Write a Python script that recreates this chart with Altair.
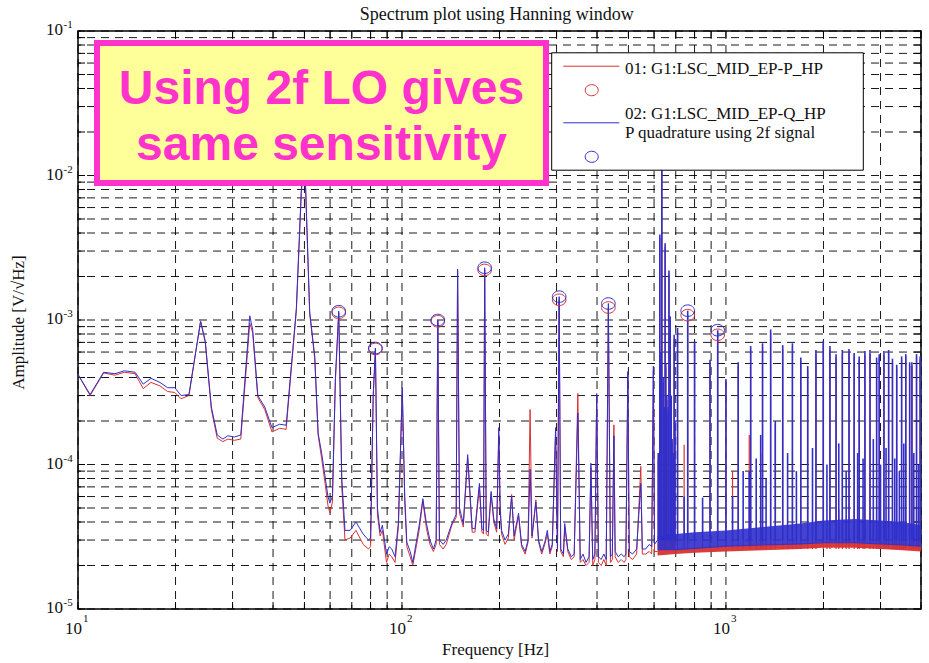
import altair as alt
import pandas as pd

# ------------------------------------------------------------------ data
freq_main = [
    10.0, 10.9, 12.0, 13.0, 13.9, 15.0, 15.9, 16.8, 17.9, 18.9,
    19.9, 20.8, 22.0, 23.9, 24.7, 25.8, 26.9, 28.0, 29.0, 30.4,
    31.8, 33.9, 34.6, 35.9, 37.7, 39.7, 41.9, 43.9, 47.2, 48.9,
    50.0, 51.9, 53.8, 55.1, 56.5, 58.0, 59.1, 59.9, 61.0, 62.3,
    63.8, 65.2, 66.7, 69.2, 72.1, 75.9, 78.8, 80.0, 81.5, 82.8,
    84.0, 85.6, 87.0, 89.6, 91.3, 93.0, 95.2, 97.5, 100.2, 102.0,
    103.5, 106.0, 108.0, 111.0, 113.0, 116.0, 119.0, 122.0, 125.0, 127.5,
    129.0, 130.5, 134.0, 137.0, 142.5, 147.0, 148.5, 150.5, 154.6, 159.5,
    164.7, 168.0, 173.4, 176.5, 178.5, 180.0, 182.0, 184.6, 188.4, 192.0,
    196.0, 199.0, 201.0, 203.0, 208.0, 213.0, 218.0, 222.0, 224.0, 229.0,
    234.0, 240.0, 245.0, 248.6, 252.0, 259.0, 264.0, 270.0, 276.0, 281.0,
    286.0, 291.0, 298.0, 302.0, 305.6, 309.0, 315.0, 318.0, 325.0, 333.0,
    340.0, 349.0, 355.0, 362.0, 370.0, 378.0, 383.0, 388.0, 394.0, 399.0,
    404.0, 412.0, 420.0, 427.0, 433.6, 440.0, 446.0, 451.0, 455.0, 465.0,
    475.0, 485.0, 491.0, 498.0, 503.0, 515.0, 530.0, 546.0, 552.0, 565.0,
    580.0, 590.0, 597.0, 602.0, 615.0,
]
amp_blue_main = [
    4.2e-4, 3.05e-4, 4.35e-4, 4.25e-4, 4.45e-4, 4.35e-4, 3.6e-4, 3.95e-4, 3.7e-4, 3.4e-4,
    3.4e-4, 3.0e-4, 3.05e-4, 9.8e-4, 7.2e-4, 2.5e-4, 1.6e-4, 1.5e-4, 1.58e-4, 1.55e-4,
    1.6e-4, 1.07e-3, 8.6e-4, 3.0e-4, 2.5e-4, 1.8e-4, 1.9e-4, 1.87e-4, 1.2e-3, 8.0e-3,
    1.5e-2, 1.14e-3, 5.6e-4, 1.65e-4, 1.2e-4, 8.0e-5, 6.0e-5, 5.4e-5, 6.0e-5, 4.0e-4,
    1.15e-3, 8.0e-5, 3.5e-5, 3.5e-5, 4.0e-5, 3.3e-5, 3.0e-5, 3.1e-5, 3.0e-4, 6.4e-4,
    5.0e-5, 3.4e-5, 3.8e-5, 2.4e-5, 2.7e-5, 2.6e-5, 2.3e-5, 4.0e-5, 3.4e-4, 6.0e-5,
    2.9e-5, 2.5e-5, 2.1e-5, 3.0e-5, 3.8e-5, 5.8e-5, 3.9e-5, 3.0e-5, 2.6e-5, 3.0e-5,
    1.0e-3, 3.0e-5, 2.8e-5, 3.0e-5, 3.9e-5, 4.5e-5, 2.25e-3, 5.0e-5, 3.9e-5, 1.17e-4,
    3.6e-5, 3.6e-5, 7.4e-5, 3.6e-5, 3.5e-5, 2.3e-3, 3.5e-5, 3.4e-5, 6.5e-5, 4.2e-5,
    3.6e-5, 1.8e-4, 5.0e-5, 3.5e-5, 3.0e-5, 3.3e-5, 6.0e-5, 3.2e-5, 3.6e-5, 4.6e-5,
    2.8e-5, 2.5e-5, 3.0e-5, 9.3e-5, 3.2e-5, 5.5e-5, 3.0e-5, 2.5e-5, 2.9e-5, 3.5e-5,
    2.5e-5, 2.8e-5, 1.8e-4, 2.6e-5, 1.45e-3, 2.6e-5, 2.4e-5, 3.9e-5, 2.6e-5, 2.3e-5,
    2.4e-5, 2.27e-4, 2.2e-5, 2.4e-5, 2.1e-5, 2.3e-5, 1.02e-4, 2.2e-5, 2.4e-5, 3.1e-4,
    2.3e-5, 2.2e-5, 2.4e-5, 2.2e-5, 1.3e-3, 2.3e-5, 2.4e-5, 1.58e-4, 2.5e-5, 2.3e-5,
    2.4e-5, 2.3e-5, 2.4e-5, 4.4e-4, 2.5e-5, 2.4e-5, 2.6e-5, 7.4e-5, 2.6e-5, 2.6e-5,
    2.8e-5, 2.7e-5, 4.8e-4, 2.8e-5, 3.0e-5,
]
amp_red_main = [
    4.2e-4, 3.0e-4, 4.3e-4, 4.15e-4, 4.35e-4, 4.25e-4, 3.35e-4, 3.7e-4, 3.5e-4, 3.2e-4,
    3.15e-4, 2.85e-4, 3.0e-4, 9.8e-4, 7.0e-4, 2.4e-4, 1.52e-4, 1.44e-4, 1.5e-4, 1.47e-4,
    1.5e-4, 9.5e-4, 8.2e-4, 2.9e-4, 2.4e-4, 1.68e-4, 1.78e-4, 1.75e-4, 1.15e-3, 7.5e-3,
    1.4e-2, 1.1e-3, 5.4e-4, 1.6e-4, 1.1e-4, 7.2e-5, 5.2e-5, 4.6e-5, 5.5e-5, 3.8e-4,
    1.12e-3, 7.0e-5, 3.0e-5, 3.1e-5, 3.5e-5, 2.8e-5, 2.6e-5, 2.7e-5, 2.9e-4, 6.3e-4,
    4.5e-5, 3.2e-5, 3.5e-5, 2.1e-5, 2.4e-5, 2.3e-5, 2.1e-5, 3.7e-5, 3.3e-4, 5.5e-5,
    2.7e-5, 2.3e-5, 2.0e-5, 2.8e-5, 3.5e-5, 5.6e-5, 3.6e-5, 2.8e-5, 2.5e-5, 2.8e-5,
    9.8e-4, 2.8e-5, 2.6e-5, 2.8e-5, 3.8e-5, 4.3e-5, 2.2e-3, 4.6e-5, 3.7e-5, 1.1e-4,
    3.4e-5, 3.4e-5, 7.0e-5, 3.4e-5, 3.3e-5, 2.22e-3, 3.3e-5, 3.2e-5, 6.2e-5, 4.0e-5,
    3.4e-5, 1.6e-4, 4.6e-5, 3.3e-5, 2.8e-5, 3.1e-5, 6.2e-5, 3.0e-5, 3.4e-5, 4.4e-5,
    2.7e-5, 2.4e-5, 2.9e-5, 2.4e-4, 3.1e-5, 5.7e-5, 2.9e-5, 2.4e-5, 2.8e-5, 3.3e-5,
    2.4e-5, 2.7e-5, 1.7e-4, 2.5e-5, 1.38e-3, 2.5e-5, 2.3e-5, 3.7e-5, 2.5e-5, 2.2e-5,
    2.3e-5, 3.1e-4, 2.1e-5, 2.2e-5, 2.0e-5, 2.1e-5, 9.5e-5, 2.0e-5, 2.2e-5, 3.0e-4,
    2.1e-5, 2.0e-5, 2.2e-5, 2.0e-5, 1.22e-3, 2.1e-5, 2.2e-5, 1.88e-4, 2.3e-5, 2.1e-5,
    2.2e-5, 2.1e-5, 2.2e-5, 4.2e-4, 2.3e-5, 2.2e-5, 2.4e-5, 9.7e-5, 2.4e-5, 2.4e-5,
    2.5e-5, 2.4e-5, 4.5e-4, 2.5e-5, 2.5e-5,
]

# noise floor above ~600 Hz (lower / upper edge of the dense noise)
band_freq = [615, 700, 800, 1000, 1300, 1700, 2000, 2500, 3000, 3500, 4000]
band_blue_low = [2.55e-5, 2.55e-5, 2.6e-5, 2.7e-5, 2.75e-5, 2.8e-5, 2.85e-5, 2.85e-5, 2.8e-5, 2.75e-5, 2.7e-5]
band_blue_high = [3.2e-5, 3.3e-5, 3.4e-5, 3.5e-5, 3.7e-5, 3.9e-5, 4.1e-5, 4.2e-5, 4.1e-5, 4.0e-5, 3.8e-5]
band_red_low = [2.35e-5, 2.4e-5, 2.45e-5, 2.5e-5, 2.55e-5, 2.6e-5, 2.65e-5, 2.65e-5, 2.6e-5, 2.55e-5, 2.5e-5]
band_red_high = [2.6e-5, 2.6e-5, 2.65e-5, 2.75e-5, 2.8e-5, 2.85e-5, 2.9e-5, 2.9e-5, 2.85e-5, 2.8e-5, 2.75e-5]

# spectral lines above ~600 Hz
spike_freq = [
    618, 625, 630, 634, 640, 645, 649, 652, 657, 663,
    667, 673, 678, 682, 688, 692, 696, 709, 743, 762,
    800, 847, 893, 943, 1000, 1048, 1091, 1130, 1180, 1192,
    1240, 1280, 1297, 1330, 1374, 1420, 1497, 1550, 1604, 1650,
    1702, 1788, 1850, 1896, 1997, 2050, 2094, 2187, 2230, 2287,
    2350, 2398, 2487, 2550, 2578, 2650, 2685, 2784, 2850, 2918,
    2972, 3000, 3074, 3120, 3178, 3266, 3320, 3366, 3430, 3485,
    3540, 3590, 3690, 3750, 3800, 3875, 3930, 3975,
]
spike_blue = [
    1.2e-4, 3.9e-3, 6.0e-4, 1.2e-2, 4.0e-4, 2.5e-4, 3.4e-3, 5.0e-4, 3.0e-4, 2.5e-4,
    2.2e-3, 1.06e-3, 3.0e-4, 1.5e-4, 1.2e-4, 7.9e-4, 2.0e-4, 8.8e-4, 6.0e-5, 1.16e-3,
    7.1e-4, 5.9e-5, 5.3e-4, 8.5e-4, 3.9e-4, 6.0e-5, 5.1e-4, 9.0e-5, 9.0e-5, 6.6e-4,
    1.1e-4, 1.6e-4, 6.9e-4, 8.0e-5, 8.6e-4, 2.0e-4, 6.7e-4, 1.2e-4, 6.9e-4, 9.0e-5,
    5.5e-4, 4.8e-4, 1.3e-4, 6.2e-4, 7.2e-4, 1.0e-4, 6.6e-4, 5.8e-4, 1.4e-4, 6.2e-4,
    9.0e-5, 6.3e-4, 5.9e-4, 1.2e-4, 5.6e-4, 1.1e-4, 6.1e-4, 6.2e-4, 1.5e-4, 5.5e-4,
    5.8e-4, 1.0e-4, 6.1e-4, 1.3e-4, 6.2e-4, 5.4e-4, 1.1e-4, 4.9e-4, 9.0e-5, 5.6e-4,
    1.4e-4, 5.8e-4, 5.1e-4, 5.1e-4, 1.2e-4, 5.8e-4, 1.0e-4, 5.6e-4,
]
spike_red = [
    1.1e-4, 3.7e-3, 5.6e-4, 1.1e-2, 3.7e-4, 2.3e-4, 3.2e-3, 4.7e-4, 2.8e-4, 2.3e-4,
    2.1e-3, 1.0e-3, 2.8e-4, 1.4e-4, 1.1e-4, 7.4e-4, 1.9e-4, 8.3e-4, 1.37e-4, 1.08e-3,
    6.7e-4, 5.0e-5, 5.0e-4, 7.9e-4, 3.7e-4, 9.0e-5, 4.8e-4, 3.0e-5, 1.6e-4, 6.2e-4,
    3.0e-5, 1.2e-4, 6.5e-4, 3.0e-5, 8.1e-4, 1.9e-4, 6.3e-4, 3.0e-5, 6.5e-4, 3.0e-5,
    5.2e-4, 4.5e-4, 3.0e-5, 5.8e-4, 6.8e-4, 3.0e-5, 6.2e-4, 5.5e-4, 4.9e-5, 5.8e-4,
    3.0e-5, 5.9e-4, 5.6e-4, 3.0e-5, 5.3e-4, 3.0e-5, 5.7e-4, 5.8e-4, 3.0e-5, 5.2e-4,
    5.5e-4, 3.0e-5, 5.7e-4, 3.0e-5, 5.8e-4, 5.1e-4, 3.0e-5, 4.6e-4, 3.0e-5, 5.3e-4,
    3.0e-5, 5.5e-4, 4.8e-4, 4.8e-4, 3.0e-5, 5.5e-4, 3.0e-5, 5.3e-4,
]
spike_floor_blue = 3.0e-5
spike_floor_red = 2.6e-5

# marked peaks (circles)
circle_freq = [63.8, 82.8, 129.0, 180.0, 305.6, 433.6, 762.0, 943.0]
circle_blue = [1.15e-3, 6.4e-4, 1.0e-3, 2.3e-3, 1.45e-3, 1.3e-3, 1.16e-3, 8.5e-4]
circle_red = [1.12e-3, 6.3e-4, 9.8e-4, 2.22e-3, 1.38e-3, 1.22e-3, 1.08e-3, 7.9e-4]

# grid and tick labels
x_grid = [10, 20, 30, 40, 50, 60, 70, 80, 90,
          100, 200, 300, 400, 500, 600, 700, 800, 900,
          1000, 2000, 3000, 4000]
y_grid = [1e-5, 2e-5, 3e-5, 4e-5, 5e-5, 6e-5, 7e-5, 8e-5, 9e-5,
          1e-4, 2e-4, 3e-4, 4e-4, 5e-4, 6e-4, 7e-4, 8e-4, 9e-4,
          1e-3, 2e-3, 3e-3, 4e-3, 5e-3, 6e-3, 7e-3, 8e-3, 9e-3,
          1e-2, 2e-2, 3e-2, 4e-2, 5e-2, 6e-2, 7e-2, 8e-2, 9e-2, 1e-1]
x_label_vals = [10, 100, 1000]
x_label_base = ["10", "10", "10"]
x_label_exp = ["1", "2", "3"]
y_label_vals = [1e-5, 1e-4, 1e-3, 1e-2, 1e-1]
y_label_base = ["10", "10", "10", "10", "10"]
y_label_exp = ["-5", "-4", "-3", "-2", "-1"]

title_text = "Spectrum plot using Hanning window"
x_title = "Frequency [Hz]"
y_title = "Amplitude [V/\u221aHz]"
legend_labels = ["01: G1:LSC_MID_EP-P_HP", "02: G1:LSC_MID_EP-Q_HP", "P quadrature using 2f signal"]
note_lines = ["Using 2f LO gives", "same sensitivity"]

# ------------------------------------------------------------------ style
W, H = 843, 578
RED = "#D83232"
BLUE = "#2F2FCC"
PINK = "#FF33CC"
YELLOW = "#FFFF99"
SERIF = "Liberation Serif"
SANS = "Liberation Sans"
ELLIPSE = "M-1,0A1,0.85,0,1,0,1,0A1,0.85,0,1,0,-1,0Z"

XS = alt.Scale(type="log", domain=[10, 4000], nice=False)
YS = alt.Scale(type="log", domain=[1e-5, 1e-1], nice=False)


def X(field):
    return alt.X(field, type="quantitative", scale=XS, axis=None)


def Y(field):
    return alt.Y(field, type="quantitative", scale=YS, axis=None)


def one(text=""):
    return alt.Chart(pd.DataFrame({"t": [text]}))


df_main = pd.DataFrame({"f": freq_main, "blue": amp_blue_main, "red": amp_red_main})
df_band = pd.DataFrame({"f": band_freq, "blo": band_blue_low, "bhi": band_blue_high,
                        "rlo": band_red_low, "rhi": band_red_high})
df_spk = pd.DataFrame({"f": spike_freq, "blue": spike_blue, "red": spike_red,
                       "bfloor": [spike_floor_blue] * len(spike_freq),
                       "rfloor": [spike_floor_red] * len(spike_freq)})
df_circ = pd.DataFrame({"f": circle_freq, "blue": circle_blue, "red": circle_red})
df_xg = pd.DataFrame({"f": x_grid})
df_yg = pd.DataFrame({"a": y_grid})
df_xl = pd.DataFrame({"f": x_label_vals, "base": x_label_base, "exp": x_label_exp})
df_yl = pd.DataFrame({"a": y_label_vals, "base": y_label_base, "exp": y_label_exp})

layers = []

# grid
layers.append(alt.Chart(df_xg).mark_rule(color="#000", strokeDash=[8, 6], strokeWidth=1, opacity=0.9)
              .encode(x=X("f")))
layers.append(alt.Chart(df_yg).mark_rule(color="#000", strokeDash=[8, 6], strokeWidth=1, opacity=0.9)
              .encode(y=Y("a")))
# inward ticks on all four sides
layers.append(alt.Chart(df_xg).mark_rule(color="#000").encode(x=X("f"), y=alt.value(H), y2=alt.value(H - 7)))
layers.append(alt.Chart(df_xg).mark_rule(color="#000").encode(x=X("f"), y=alt.value(0), y2=alt.value(7)))
layers.append(alt.Chart(df_yg).mark_rule(color="#000").encode(y=Y("a"), x=alt.value(0), x2=alt.value(7)))
layers.append(alt.Chart(df_yg).mark_rule(color="#000").encode(y=Y("a"), x=alt.value(W), x2=alt.value(W - 7)))

# red series
layers.append(alt.Chart(df_band).mark_area(color=RED, opacity=0.95)
              .encode(x=X("f"), y=Y("rlo"), y2=alt.Y2("rhi")))
layers.append(alt.Chart(df_main).mark_line(color=RED, strokeWidth=1)
              .encode(x=X("f"), y=Y("red")))
layers.append(alt.Chart(df_spk).mark_rule(color=RED, strokeWidth=1.2)
              .encode(x=X("f"), y=Y("rfloor"), y2=alt.Y2("red")))
# blue series
layers.append(alt.Chart(df_band).mark_area(color=BLUE, opacity=0.9)
              .encode(x=X("f"), y=Y("blo"), y2=alt.Y2("bhi")))
layers.append(alt.Chart(df_main).mark_line(color=BLUE, strokeWidth=1)
              .encode(x=X("f"), y=Y("blue")))
layers.append(alt.Chart(df_spk).mark_rule(color=BLUE, strokeWidth=1.6)
              .encode(x=X("f"), y=Y("bfloor"), y2=alt.Y2("blue")))
# peak circles
layers.append(alt.Chart(df_circ).mark_point(shape=ELLIPSE, size=185, filled=False, color=RED,
                                            strokeWidth=1, opacity=1)
              .encode(x=X("f"), y=Y("red")))
layers.append(alt.Chart(df_circ).mark_point(shape=ELLIPSE, size=185, filled=False, color=BLUE,
                                            strokeWidth=1, opacity=1)
              .encode(x=X("f"), y=Y("blue")))

# annotation box
layers.append(one().mark_rect(fill=YELLOW, stroke=PINK, strokeWidth=6)
              .encode(x=alt.value(19), x2=alt.value(468), y=alt.value(12), y2=alt.value(152)))
layers.append(one(note_lines[0]).mark_text(font=SANS, fontWeight="bold", fontSize=48, color=PINK,
                                           align="center", baseline="alphabetic")
              .encode(x=alt.value(243.5), y=alt.value(72.5), text="t:N"))
layers.append(one(note_lines[1]).mark_text(font=SANS, fontWeight="bold", fontSize=48, color=PINK,
                                           align="center", baseline="alphabetic")
              .encode(x=alt.value(243.5), y=alt.value(128.5), text="t:N"))

# legend box
layers.append(one().mark_rect(fill="white", stroke="black", strokeWidth=1)
              .encode(x=alt.value(473.7), x2=alt.value(785.3), y=alt.value(21.8), y2=alt.value(139.2)))
layers.append(one().mark_rule(color=RED, strokeWidth=1)
              .encode(x=alt.value(485.3), x2=alt.value(541.3), y=alt.value(35.2)))
layers.append(one().mark_rule(color=BLUE, strokeWidth=1)
              .encode(x=alt.value(485.3), x2=alt.value(541.3), y=alt.value(91.8)))
layers.append(one().mark_point(shape=ELLIPSE, size=170, filled=False, color=RED, strokeWidth=1, opacity=1)
              .encode(x=alt.value(513.7), y=alt.value(59.2)))
layers.append(one().mark_point(shape=ELLIPSE, size=170, filled=False, color=BLUE, strokeWidth=1, opacity=1)
              .encode(x=alt.value(513.7), y=alt.value(125.8)))
for txt, yy in zip(legend_labels, [42.5, 87.5, 107]):
    layers.append(one(txt).mark_text(font=SERIF, fontSize=17, color="#111", align="left",
                                     baseline="alphabetic")
                  .encode(x=alt.value(547), y=alt.value(yy), text="t:N"))

# title
layers.append(one(title_text).mark_text(font=SERIF, fontSize=18, color="#111", align="center",
                                        baseline="alphabetic")
              .encode(x=alt.value(418.7), y=alt.value(-11.5), text="t:N"))

# tick labels (10 with superscript exponent)
layers.append(alt.Chart(df_xl).mark_text(font=SERIF, fontSize=17, color="#111", align="right",
                                         baseline="middle", dx=4)
              .encode(x=X("f"), y=alt.value(H + 20), text="base:N"))
layers.append(alt.Chart(df_xl).mark_text(font=SERIF, fontSize=11, color="#111", align="left",
                                         baseline="middle", dx=5)
              .encode(x=X("f"), y=alt.value(H + 10), text="exp:N"))
layers.append(alt.Chart(df_yl).mark_text(font=SERIF, fontSize=17, color="#111", align="right",
                                         baseline="middle", dy=-1)
              .encode(y=Y("a"), x=alt.value(-15), text="base:N"))
layers.append(alt.Chart(df_yl).mark_text(font=SERIF, fontSize=11, color="#111", align="left",
                                         baseline="middle", dy=-6)
              .encode(y=Y("a"), x=alt.value(-14.5), text="exp:N"))

# axis titles
layers.append(one(x_title).mark_text(font=SERIF, fontSize=17, color="#111", align="center",
                                     baseline="middle")
              .encode(x=alt.value(417.7), y=alt.value(H + 41), text="t:N"))
layers.append(one(y_title).mark_text(font=SERIF, fontSize=17, color="#111", align="center",
                                     baseline="middle", angle=270)
              .encode(x=alt.value(-59), y=alt.value(291.5), text="t:N"))

chart = (
    alt.layer(*layers)
    .properties(width=W, height=H, padding={"left": 78, "top": 31, "right": 8, "bottom": 54},
                autosize=alt.AutoSizeParams(type="none"), background="white")
    .configure_view(stroke="#000", strokeWidth=1.5)
)

chart.save("out.html", embed_options={"renderer": "svg", "actions": False})
